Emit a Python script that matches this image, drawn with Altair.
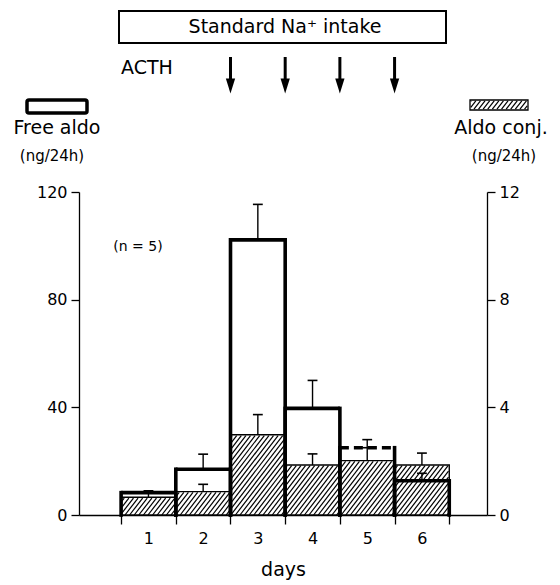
import math
import altair as alt
import pandas as pd

# ---------------- data ----------------
days = [1, 2, 3, 4, 5, 6]
free_aldo = [8.3, 17.0, 102.2, 39.6, 25.0, 12.7]      # ng/24h, left scale
free_err = [9.0, 22.6, 115.4, 50.0, 28.0, 15.5]       # top of error bar
aldo_conj = [0.66, 0.87, 2.98, 1.86, 2.02, 1.86]      # ng/24h, right scale
conj_err = [0.82, 1.14, 3.73, 2.27, 2.50, 2.30]
acth_days = [2.5, 3.5, 4.5, 5.5]
dashed_days = [5]
free_ticks = [0, 40, 80, 120]
conj_ticks = [0, 4, 8, 12]
day_edges = [0.5, 1.5, 2.5, 3.5, 4.5, 5.5, 6.5]

# ---------------- layout ----------------
FONT = "DejaVu Sans"
W, H = 408, 323
X_DOMAIN = [-0.27, 7.19]
FREE_DOMAIN = [0, 120]
CONJ_DOMAIN = [0, 12]
PX_DAY = W / (X_DOMAIN[1] - X_DOMAIN[0])
PX_CONJ = H / CONJ_DOMAIN[1]

xs = alt.Scale(domain=X_DOMAIN, nice=False, zero=False)
fs = alt.Scale(domain=FREE_DOMAIN, nice=False, zero=False)
cs = alt.Scale(domain=CONJ_DOMAIN, nice=False, zero=False)

x_axis = alt.Axis(values=day_edges, labelExpr="datum.value < 6 ? toString(datum.value + 0.5) : ''",
                  labelOffset=PX_DAY / 2, labelFlush=False, tickSize=9, labelPadding=6,
                  labelFontSize=16, title="days", titleFontSize=19, titleFontWeight="normal",
                  titlePadding=14, grid=False, domainWidth=1.3, tickWidth=1.3)
left_axis = alt.Axis(orient="left", values=free_ticks, tickSize=8, labelPadding=4,
                     labelFontSize=16, title=None, grid=False, domainWidth=1.3, tickWidth=1.3)
right_axis = alt.Axis(orient="right", values=conj_ticks, tickSize=8, labelPadding=4,
                      labelFontSize=16, title=None, grid=False, domainWidth=1.3, tickWidth=1.3)


def X(f):
    return alt.X(f, type="quantitative", scale=xs, axis=x_axis)


def YF(f, axis=None):
    return alt.Y(f, type="quantitative", scale=fs, axis=axis)


def YC(f, axis=None):
    return alt.Y(f, type="quantitative", scale=cs, axis=axis)


def hatch(X0, X1, V0, V1, step=4.6, k=1.3):
    """diagonal hatch segments inside a pixel box (V measured upward)."""
    segs = []
    c = math.floor((X0 - V1 / k) / step) * step
    while c <= X1:
        Xa = max(X0, c + V0 / k)
        Xb = min(X1, c + V1 / k)
        if Xb > Xa:
            segs.append((Xa, k * (Xa - c), Xb, k * (Xb - c)))
        c += step
    return segs


def to_data(segs):
    rows = []
    for (xa, va, xb, vb) in segs:
        rows.append({
            "hx": X_DOMAIN[0] + xa / PX_DAY, "hy": va / PX_CONJ,
            "hx2": X_DOMAIN[0] + xb / PX_DAY, "hy2": vb / PX_CONJ,
        })
    return rows


df = pd.DataFrame({"day": days, "free": free_aldo, "free_err": free_err,
                   "conj": aldo_conj, "conj_err": conj_err})

# hatch for conj bars (computed from the values)
hrows = []
for d, v in zip(days, aldo_conj):
    X0 = (d - 0.5 - X_DOMAIN[0]) * PX_DAY
    X1 = (d + 0.5 - X_DOMAIN[0]) * PX_DAY
    hrows += to_data(hatch(X0 + 0.8, X1 - 0.8, 0, v * PX_CONJ - 0.8))
# legend swatch hatch (pixel box relative to plot origin)
SW = (391, 449, -92, -82)
hrows += to_data(hatch(SW[0] + 0.8, SW[1] - 0.8, H - SW[3] + 0.8, H - SW[2] - 0.8))
hdf = pd.DataFrame(hrows)

base = alt.Chart(df).transform_calculate(
    x0="datum.day - 0.5", x1="datum.day + 0.5",
    c0="datum.day - 0.09", c1="datum.day + 0.09")

one = pd.DataFrame({"k": [0]})
conj_swatch = alt.Chart(one).mark_rect(fill="white", stroke="black", strokeWidth=1.3).encode(
    x=alt.value(SW[0]), x2=alt.value(SW[1]), y=alt.value(SW[2]), y2=alt.value(SW[3]))

conj_bars = base.mark_rect(fill="white", stroke="black", strokeWidth=1.4).encode(
    x=X("x0"), x2="x1:Q", y=YC("conj", right_axis), y2=alt.datum(0))

hatch_lines = alt.Chart(hdf).mark_rule(strokeWidth=1.2, color="black").encode(
    x=X("hx"), x2="hx2:Q", y=YC("hy"), y2="hy2:Q")

conj_err_line = base.mark_rule(strokeWidth=1.4, color="black").encode(
    x=X("day"), y=YC("conj"), y2="conj_err:Q")
conj_err_cap = base.mark_rule(strokeWidth=1.6, color="black").encode(
    x=X("c0"), x2="c1:Q", y=YC("conj_err"))

free_vert = base.transform_fold(["x0", "x1"], as_=["edge", "xe"]).mark_rule(
    strokeWidth=3.6, color="black", strokeCap="square").encode(
    x=X("xe"), y=YF("free", left_axis), y2=alt.datum(0))
free_top = base.mark_rule(strokeWidth=3.6, color="black", strokeCap="butt").encode(
    x=X("x0"), x2="x1:Q", y=YF("free"),
    strokeDash=alt.condition(f"indexof({dashed_days}, datum.day) >= 0",
                             alt.value([9, 5]), alt.value([1, 0])))
free_err_line = base.mark_rule(strokeWidth=1.4, color="black").encode(
    x=X("day"), y=YF("free"), y2="free_err:Q")
free_err_cap = base.mark_rule(strokeWidth=1.6, color="black").encode(
    x=X("c0"), x2="c1:Q", y=YF("free_err"))

box = alt.Chart(one).mark_rect(fill="white", stroke="black", strokeWidth=2).encode(
    x=alt.value(40), x2=alt.value(367), y=alt.value(-181), y2=alt.value(-149))
box_text = alt.Chart(one).mark_text(text="Standard Na⁺ intake", fontSize=19, font=FONT,
                                    align="center", baseline="middle").encode(
    x=alt.value(206), y=alt.value(-165))
acth_text = alt.Chart(one).mark_text(text="ACTH", fontSize=19, font=FONT,
                                     align="left", baseline="middle").encode(
    x=alt.value(42), y=alt.value(-124))

adf = pd.DataFrame({"d": acth_days})
arrow_shaft = alt.Chart(adf).mark_rule(strokeWidth=3, color="black").encode(
    x=X("d"), y=alt.value(-135), y2=alt.value(-110))
arrow_head = alt.Chart(adf).mark_point(shape="M -0.62 -1 L 0.62 -1 L 0 1 Z", filled=True,
                                       color="black", opacity=1, size=225).encode(
    x=X("d"), y=alt.value(-106))

free_swatch = alt.Chart(one).mark_rect(fill="white", stroke="black", strokeWidth=3.5,
                                       cornerRadius=2).encode(
    x=alt.value(-52), x2=alt.value(8), y=alt.value(-92), y2=alt.value(-79))


def label(txt, x, y, size):
    return alt.Chart(one).mark_text(text=txt, fontSize=size, font=FONT, align="center",
                                    baseline="middle").encode(x=alt.value(x), y=alt.value(y))


texts = [
    label("Free aldo", -22, -64, 19),
    label("(ng/24h)", -27, -36, 15),
    label("Aldo conj.", 422, -64, 19),
    label("(ng/24h)", 425, -36, 15),
    label("(n = 5)", 59, 55, 14),
]

chart = alt.layer(
    conj_swatch, conj_bars, hatch_lines, conj_err_line, conj_err_cap,
    free_vert, free_top, free_err_line, free_err_cap,
    box, box_text, acth_text, arrow_shaft, arrow_head,
    free_swatch, *texts,
).resolve_scale(y="independent").properties(
    width=W, height=H,
    padding={"left": 71, "top": 184, "right": 65, "bottom": 69},
    autosize=alt.AutoSizeParams(type="none"),
).configure_view(stroke=None).configure_axis(
    labelFont=FONT, titleFont=FONT, labelColor="black", titleColor="black",
    domainColor="black", tickColor="black")

chart.save("out.html", embed_options={"renderer": "svg", "actions": False})
